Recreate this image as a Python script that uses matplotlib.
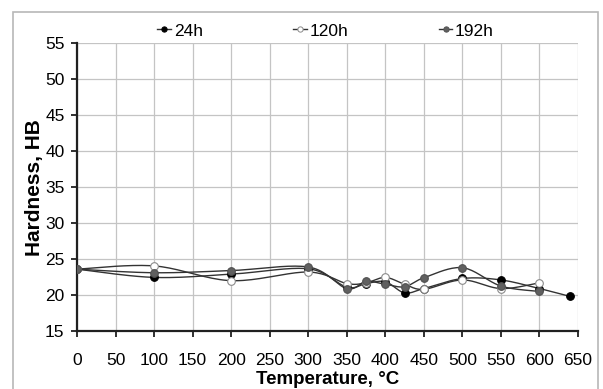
import numpy as np
import matplotlib
matplotlib.use('Agg')
import matplotlib.pyplot as plt
from matplotlib.patches import Rectangle
from matplotlib.lines import Line2D

plt.rcParams['font.family'] = ['Liberation Sans', 'DejaVu Sans']

# data
t_24 = [0, 100, 200, 300, 350, 375, 400, 425, 450, 500, 550, 600, 640]
hb_24 = [23.6, 22.45, 22.9, 23.65, 21.1, 21.6, 21.85, 20.3, 20.9, 22.3, 22.1, 20.9, 19.8]

t_120 = [0, 100, 200, 300, 350, 375, 400, 425, 450, 500, 550, 600]
hb_120 = [23.6, 24.05, 22.0, 23.2, 21.6, 21.7, 22.45, 21.5, 20.8, 22.1, 20.9, 21.7]

t_192 = [0, 100, 200, 300, 350, 375, 400, 425, 450, 500, 550, 600]
hb_192 = [23.6, 23.1, 23.4, 23.9, 20.9, 21.9, 21.5, 21.15, 22.4, 23.8, 21.25, 20.5]

labels = ['24h', '120h', '192h']
face = ['#000000', '#ffffff', '#606060']
edge = ['#000000', '#8a8a8a', '#505050']


def smooth(x, y, n=20):
    # catmull-rom curve through the points, like excel "smoothed line"
    x = np.asarray(x, float)
    y = np.asarray(y, float)
    px = np.concatenate([[x[0]], x, [x[-1]]])
    py = np.concatenate([[y[0]], y, [y[-1]]])
    xs, ys = [], []
    for i in range(1, len(px) - 2):
        s = np.linspace(0, 1, n, endpoint=False)
        for p, out in ((px, xs), (py, ys)):
            p0, p1, p2, p3 = p[i - 1], p[i], p[i + 1], p[i + 2]
            out.extend(0.5 * ((2 * p1) + (-p0 + p2) * s
                              + (2 * p0 - 5 * p1 + 4 * p2 - p3) * s ** 2
                              + (-p0 + 3 * p1 - 3 * p2 + p3) * s ** 3))
    xs.append(x[-1])
    ys.append(y[-1])
    return xs, ys


fig = plt.figure(figsize=(6.03, 3.89), dpi=100)
ax = fig.add_axes([77 / 603, 1 - 331 / 389, 501 / 603, 287.7 / 389])

series = [(t_24, hb_24), (t_120, hb_120), (t_192, hb_192)]
for (x, y), fc, ec in zip(series, face, edge):
    sx, sy = smooth(x, y)
    ax.plot(sx, sy, color='#333333', lw=1.0, zorder=3)
for (x, y), fc, ec in zip(series, face, edge):
    ax.plot(x, y, ls='none', marker='o', ms=5.5, mfc=fc, mec=ec, mew=0.8, zorder=4)

ax.set_xlim(0, 650)
ax.set_ylim(15, 55)
ax.set_xticks(np.arange(0, 651, 50))
ax.set_yticks(np.arange(15, 56, 5))
ax.grid(True, color='#c4c4c4', lw=0.9)
ax.set_axisbelow(True)
for s in ['top', 'right']:
    ax.spines[s].set_visible(False)
for s in ['left', 'bottom']:
    ax.spines[s].set_linewidth(1.6)
    ax.spines[s].set_color('#202020')
ax.tick_params(direction='out', length=4, width=1.3, color='#202020', labelsize=12.5)
ax.tick_params(axis='y', pad=5)
ax.tick_params(axis='x', pad=12)

ax.set_xlabel('Temperature, °C', fontsize=13.5, fontweight='bold', labelpad=2)
ax.set_ylabel('Hardness, HB', fontsize=15, fontweight='bold', labelpad=1)

handles = [Line2D([], [], color='#333333', lw=1.0, marker='o', ms=3.8, mfc=fc, mec=ec, mew=0.7)
           for fc, ec in zip(face, edge)]
fig.legend(handles, labels, loc='center', bbox_to_anchor=(0.54, 1 - 31 / 389), ncol=3,
           frameon=False, fontsize=12.5, handlelength=0.8, handletextpad=0.15,
           columnspacing=5.2, borderaxespad=0)

fig.patches.append(Rectangle((13 / 603, -0.2), 585 / 603, 1.2 - 12 / 389,
                             transform=fig.transFigure, fill=False,
                             edgecolor='#b8b8b8', lw=1.2))

fig.savefig('out.png', dpi=100)
